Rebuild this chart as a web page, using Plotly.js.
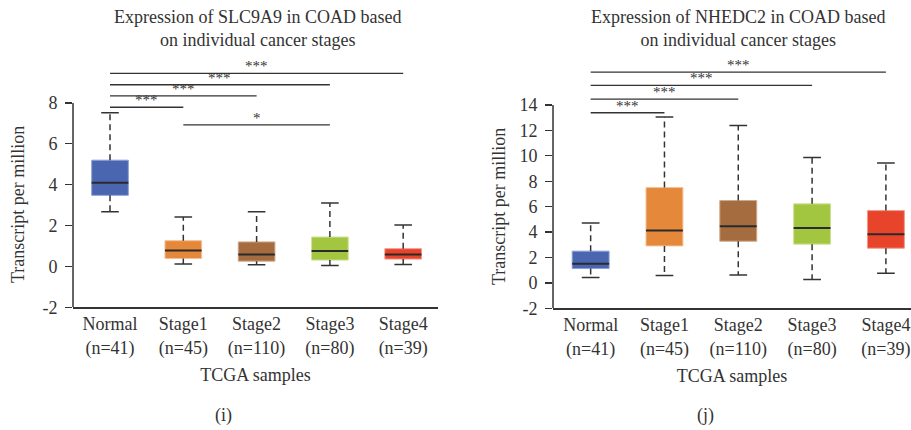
<!DOCTYPE html>
<html>
<head>
<meta charset="utf-8">
<script src="https://cdn.plot.ly/plotly-3.0.1.min.js"></script>
<style>
  html, body { margin: 0; padding: 0; background: #fff; }
  #chart { width: 911px; height: 430px; }
</style>
</head>
<body>
<div id="chart"></div>
<script>
// Box-plot summaries (TPM) per sample group
const groups = ["Normal", "Stage1", "Stage2", "Stage3", "Stage4"];
const counts = [41, 45, 110, 80, 39];
const tickLabels = groups.map((g, i) => g + "<br>(n=" + counts[i] + ")");

const boxColors = ["#4a66b0", "#e6883a", "#a56c40", "#a2c640", "#e8432b"];
const edgeColors = ["#8da0d6", "#f4bf95", "#cfa888", "#cde396", "#f49a8a"];

// SLC9A9
const slcLower  = [2.68, 0.12, 0.08, 0.05, 0.10];
const slcQ1     = [3.48, 0.39, 0.26, 0.31, 0.36];
const slcMedian = [4.09, 0.78, 0.59, 0.75, 0.59];
const slcQ3     = [5.20, 1.26, 1.20, 1.44, 0.87];
const slcUpper  = [7.52, 2.42, 2.68, 3.10, 2.03];
const slcTicks  = [-2, 0, 2, 4, 6, 8];
// significance brackets: [from group, to group, height, stars]
const slcSig = [[0, 4, 9.45, "***"], [0, 3, 8.89, "***"], [0, 2, 8.35, "***"], [0, 1, 7.79, "***"], [1, 3, 6.93, "*"]];

// NHEDC2
const nheLower  = [0.42, 0.58, 0.63, 0.26, 0.76];
const nheQ1     = [1.13, 2.91, 3.28, 3.05, 2.73];
const nheMedian = [1.50, 4.12, 4.46, 4.33, 3.83];
const nheQ3     = [2.50, 7.50, 6.48, 6.22, 5.69];
const nheUpper  = [4.72, 13.05, 12.39, 9.87, 9.43];
const nheTicks  = [-2, 0, 2, 4, 6, 8, 10, 12, 14];
const nheSig = [[0, 4, 16.59, "***"], [0, 3, 15.54, "***"], [0, 2, 14.46, "***"], [0, 1, 13.39, "***"]];

const FONT = "Liberation Serif, Times New Roman, serif";
const INK = "#333333";
const BOX_W = 0.5;
const CAP_HALF = 0.12;

function boxTraces(lower, q1, med, q3, upper, xa, ya) {
  const idx = groups.map((_, i) => i);
  const wx = [], wy = [], cx = [], cy = [], mx = [], my = [];
  idx.forEach(i => {
    wx.push(i, i, null, i, i, null);
    wy.push(q3[i], upper[i], null, q1[i], lower[i], null);
    cx.push(i - CAP_HALF, i + CAP_HALF, null, i - CAP_HALF, i + CAP_HALF, null);
    cy.push(upper[i], upper[i], null, lower[i], lower[i], null);
    mx.push(i - BOX_W / 2, i + BOX_W / 2, null);
    my.push(med[i], med[i], null);
  });
  const common = {xaxis: xa, yaxis: ya, hoverinfo: "skip", showlegend: false};
  return [
    Object.assign({type: "scatter", mode: "lines", x: wx, y: wy,
      line: {color: INK, width: 1.5, dash: "6px,4px"}}, common),
    Object.assign({type: "scatter", mode: "lines", x: cx, y: cy,
      line: {color: INK, width: 1.5}}, common),
    Object.assign({type: "bar", x: idx, y: q3.map((v, i) => v - q1[i]), base: q1,
      width: BOX_W, marker: {color: boxColors, line: {color: edgeColors, width: 1}}}, common),
    Object.assign({type: "scatter", mode: "lines", x: mx, y: my,
      line: {color: "#2b2b2b", width: 2}}, common)
  ];
}

function sigShapes(sig, xa, ya) {
  return sig.map(s => ({type: "line", xref: xa, yref: ya, x0: s[0], x1: s[1], y0: s[2], y1: s[2],
    line: {color: INK, width: 1.3}}));
}
function sigNotes(sig, xa, ya) {
  return sig.map(s => ({xref: xa, yref: ya, x: (s[0] + s[1]) / 2, y: s[2], text: s[3],
    xanchor: "center", showarrow: false, yanchor: "bottom", yshift: -3,
    font: {family: FONT, size: 15, color: INK}}));
}
function paperText(x, y, text, angle) {
  return {xref: "paper", yref: "paper", x: x / 911, y: 1 - y / 430, text: text,
    xanchor: "center", yanchor: "middle", showarrow: false, textangle: angle || 0,
    font: {family: FONT, size: 18, color: INK}};
}

const data = [].concat(
  boxTraces(slcLower, slcQ1, slcMedian, slcQ3, slcUpper, "x", "y"),
  boxTraces(nheLower, nheQ1, nheMedian, nheQ3, nheUpper, "x2", "y2")
);

const xCommon = {
  tickmode: "array", tickvals: [0, 1, 2, 3, 4], ticktext: tickLabels,
  showline: true, linecolor: INK, linewidth: 1.5, ticks: "", zeroline: false, showgrid: false,
  tickfont: {family: FONT, size: 18, color: INK}, fixedrange: true,
  title: {text: "TCGA samples", font: {family: FONT, size: 18, color: INK}, standoff: 10}
};
const yCommon = {
  showline: false, ticks: "outside", ticklen: 7, tickwidth: 1.3, tickcolor: INK,
  zeroline: false, showgrid: false, tickmode: "array", fixedrange: true, ticklabelstandoff: 4,
  tickfont: {family: FONT, size: 18, color: INK}
};

const layout = {
  width: 911, height: 430,
  margin: {l: 0, r: 0, t: 0, b: 0},
  paper_bgcolor: "#fff", plot_bgcolor: "#fff",
  bargap: 0,
  xaxis: Object.assign({}, xCommon, {domain: [73 / 911, 438 / 911], range: [-0.505, 4.475], anchor: "y"}),
  yaxis: Object.assign({}, yCommon, {domain: [0.2853, 0.8556], range: [-2, 10],
    tickvals: slcTicks, ticktext: slcTicks.map(String), anchor: "x"}),
  xaxis2: Object.assign({}, xCommon, {domain: [553 / 911, 1], range: [-0.51, 4.34], anchor: "y2"}),
  yaxis2: Object.assign({}, yCommon, {domain: [0.283, 0.874], range: [-2, 18],
    tickvals: nheTicks, ticktext: nheTicks.map(String), anchor: "x2"}),
  shapes: [].concat(
    [{type: "line", xref: "x domain", yref: "y", x0: 0, x1: 0, y0: -2, y1: 8, line: {color: INK, width: 1.5}},
     {type: "line", xref: "x2 domain", yref: "y2", x0: 0, x1: 0, y0: -2, y1: 14, line: {color: INK, width: 1.5}}],
    sigShapes(slcSig, "x", "y"),
    sigShapes(nheSig, "x2", "y2")
  ),
  annotations: [].concat(
    [paperText(257, 28, "Expression of SLC9A9 in COAD based<br>on individual cancer stages"),
     paperText(738, 28, "Expression of NHEDC2 in COAD based<br>on individual cancer stages"),
     paperText(18, 205, "Transcript per million", -90),
     paperText(499, 206, "Transcript per million", -90),
     paperText(223, 415, "(i)"),
     paperText(705, 415, "(j)")],
    sigNotes(slcSig, "x", "y"),
    sigNotes(nheSig, "x2", "y2")
  )
};

Plotly.newPlot("chart", data, layout, {staticPlot: true, displayModeBar: false});
</script>
</body>
</html>
